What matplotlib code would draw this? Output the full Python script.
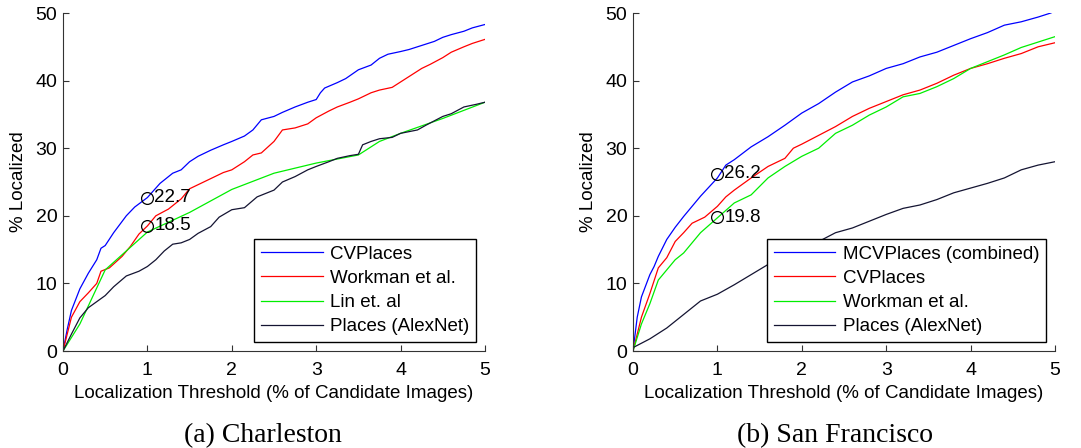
import matplotlib
matplotlib.use("Agg")
import matplotlib.pyplot as plt

plt.rcParams['font.family'] = ['Liberation Sans', 'DejaVu Sans']

# ---- (a) Charleston ----
cha_cv_x = [0, 0.05, 0.1, 0.2, 0.3, 0.4, 0.45, 0.5, 0.6, 0.75, 0.85, 1.0, 1.15, 1.3, 1.4, 1.5, 1.6, 1.75, 1.9, 2.0, 2.15, 2.25, 2.35, 2.5, 2.6, 2.75, 2.9, 3.0, 3.05, 3.1, 3.25, 3.35, 3.5, 3.65, 3.75, 3.85, 4.0, 4.1, 4.25, 4.4, 4.5, 4.6, 4.75, 4.85, 5.0]
cha_cv_y = [0, 3.2, 6.0, 9.2, 11.5, 13.5, 15.2, 15.6, 17.5, 20.0, 21.3, 22.7, 24.8, 26.3, 26.8, 28.0, 28.8, 29.7, 30.5, 31.0, 31.8, 32.7, 34.2, 34.7, 35.3, 36.1, 36.8, 37.2, 38.2, 38.9, 39.7, 40.3, 41.6, 42.3, 43.3, 43.9, 44.3, 44.6, 45.2, 45.8, 46.4, 46.8, 47.3, 47.8, 48.3]
cha_wk_x = [0, 0.1, 0.2, 0.3, 0.4, 0.45, 0.55, 0.7, 0.8, 0.9, 1.0, 1.1, 1.25, 1.4, 1.5, 1.6, 1.75, 1.9, 2.0, 2.15, 2.25, 2.35, 2.5, 2.6, 2.75, 2.9, 3.0, 3.15, 3.25, 3.4, 3.5, 3.65, 3.75, 3.9, 4.0, 4.1, 4.25, 4.35, 4.5, 4.6, 4.75, 4.85, 5.0]
cha_wk_y = [0, 5.0, 7.3, 8.6, 10.0, 11.8, 12.3, 14.0, 15.5, 17.3, 18.5, 20.0, 21.0, 22.5, 24.0, 24.6, 25.5, 26.4, 26.8, 28.0, 29.0, 29.3, 31.0, 32.7, 33.0, 33.6, 34.5, 35.5, 36.1, 36.8, 37.3, 38.2, 38.6, 39.0, 39.8, 40.6, 41.8, 42.4, 43.4, 44.2, 45.0, 45.5, 46.1]
cha_lin_x = [0, 0.2, 0.5, 0.75, 1.0, 1.5, 2.0, 2.5, 3.0, 3.5, 3.75, 4.0, 4.5, 5.0]
cha_lin_y = [0, 4.0, 12.0, 14.8, 17.6, 20.5, 23.9, 26.3, 27.8, 29.0, 31.0, 32.2, 34.4, 36.8]
cha_pl_x = [0, 0.1, 0.2, 0.3, 0.4, 0.5, 0.6, 0.75, 0.9, 1.0, 1.1, 1.2, 1.3, 1.4, 1.5, 1.6, 1.75, 1.85, 2.0, 2.15, 2.3, 2.4, 2.5, 2.6, 2.75, 2.9, 3.0, 3.15, 3.25, 3.4, 3.5, 3.55, 3.65, 3.75, 3.9, 4.0, 4.2, 4.3, 4.5, 4.6, 4.75, 4.9, 5.0]
cha_pl_y = [0, 2.5, 4.9, 6.4, 7.3, 8.2, 9.5, 11.1, 11.8, 12.5, 13.5, 14.8, 15.8, 16.0, 16.5, 17.4, 18.4, 19.8, 20.9, 21.2, 22.8, 23.3, 23.8, 25.0, 25.8, 26.8, 27.3, 28.0, 28.5, 28.9, 29.1, 30.5, 31.0, 31.4, 31.6, 32.2, 32.7, 33.4, 34.7, 35.1, 36.1, 36.5, 36.8]

# ---- (b) San Francisco ----
sf_mcv_x = [0, 0.05, 0.1, 0.2, 0.25, 0.3, 0.4, 0.5, 0.6, 0.8, 1.0, 1.1, 1.2, 1.4, 1.6, 1.8, 2.0, 2.2, 2.4, 2.6, 2.8, 3.0, 3.2, 3.4, 3.6, 3.8, 4.0, 4.2, 4.4, 4.6, 4.8, 4.95, 5.0]
sf_mcv_y = [0, 5.0, 8.0, 11.3, 12.5, 14.0, 16.5, 18.3, 19.9, 22.9, 25.6, 27.5, 28.3, 30.2, 31.7, 33.4, 35.2, 36.6, 38.3, 39.8, 40.7, 41.8, 42.5, 43.5, 44.2, 45.2, 46.2, 47.1, 48.2, 48.7, 49.4, 50.0, 50.3]
sf_cv_x = [0, 0.1, 0.2, 0.3, 0.4, 0.5, 0.6, 0.7, 0.85, 1.0, 1.1, 1.2, 1.4, 1.6, 1.8, 1.9, 2.0, 2.2, 2.4, 2.6, 2.8, 3.0, 3.2, 3.4, 3.6, 3.8, 4.0, 4.2, 4.4, 4.6, 4.8, 5.0]
sf_cv_y = [0, 5.0, 8.5, 12.3, 13.8, 16.2, 17.5, 18.9, 19.8, 21.4, 22.8, 23.8, 25.6, 27.3, 28.5, 30.0, 30.6, 31.9, 33.2, 34.7, 35.9, 36.9, 37.9, 38.6, 39.6, 40.8, 41.8, 42.5, 43.3, 44.0, 45.0, 45.6]
sf_wk_x = [0, 0.1, 0.2, 0.3, 0.4, 0.5, 0.6, 0.8, 1.0, 1.2, 1.4, 1.6, 1.8, 2.0, 2.2, 2.4, 2.6, 2.8, 3.0, 3.2, 3.4, 3.6, 3.8, 4.0, 4.2, 4.4, 4.6, 4.8, 5.0]
sf_wk_y = [0, 4.0, 7.0, 10.5, 12.0, 13.5, 14.5, 17.5, 19.7, 21.9, 23.1, 25.6, 27.3, 28.8, 30.0, 32.2, 33.4, 34.9, 36.1, 37.6, 38.1, 39.1, 40.3, 41.8, 42.8, 43.8, 44.9, 45.7, 46.5]
sf_pl_x = [0, 0.2, 0.4, 0.6, 0.8, 1.0, 1.2, 1.4, 1.6, 1.8, 2.0, 2.2, 2.4, 2.6, 2.8, 3.0, 3.2, 3.4, 3.6, 3.8, 4.0, 4.2, 4.4, 4.6, 4.8, 5.0]
sf_pl_y = [0.5, 1.8, 3.4, 5.4, 7.4, 8.4, 9.8, 11.3, 12.8, 14.3, 15.5, 16.2, 17.5, 18.2, 19.2, 20.2, 21.1, 21.6, 22.4, 23.4, 24.1, 24.8, 25.6, 26.8, 27.5, 28.0]

cha_marks_y = [22.7, 18.5]
sf_marks_y = [26.2, 19.8]
mark_x = 1.0

x_ticks = [0, 1, 2, 3, 4, 5]
y_ticks = [0, 10, 20, 30, 40, 50]

BLUE, RED, GREEN, DARK = '#0000ff', '#ff0000', '#00ee00', '#141432'
FS = 13.5

fig = plt.figure(figsize=(10.81, 4.48), dpi=100)
axL = fig.add_axes([63/1081, 1-351/448, 422/1081, 338/448])
axR = fig.add_axes([633/1081, 1-351/448, 422/1081, 338/448])

def style(ax):
    ax.set_xlim(0, 5)
    ax.set_ylim(0, 50)
    ax.set_xticks(x_ticks)
    ax.set_yticks(y_ticks)
    for s in ['top', 'right']:
        ax.spines[s].set_visible(False)
    for s in ['left', 'bottom']:
        ax.spines[s].set_color('#333333')
        ax.spines[s].set_linewidth(0.8)
    ax.tick_params(direction='in', length=4, width=0.8, labelsize=14, colors='#333333', labelcolor='black')
    ax.tick_params(axis='x', pad=8)
    ax.tick_params(axis='y', pad=4)
    ax.set_xlabel('Localization Threshold (% of Candidate Images)', fontsize=FS, labelpad=4)
    ax.set_ylabel('% Localized', fontsize=FS, labelpad=6)

lw = 0.9
axL.plot(cha_cv_x, cha_cv_y, color=BLUE, lw=lw, label='CVPlaces')
axL.plot(cha_wk_x, cha_wk_y, color=RED, lw=lw, label='Workman et al.')
axL.plot(cha_lin_x, cha_lin_y, color=GREEN, lw=lw, label='Lin et. al')
axL.plot(cha_pl_x, cha_pl_y, color=DARK, lw=lw, label='Places (AlexNet)')
for v in cha_marks_y:
    axL.plot([mark_x], [v], 'o', mfc='none', mec='black', ms=8.5, mew=0.9)
    axL.text(mark_x + 0.08, v, f'{v:.1f}', fontsize=FS, va='center', ha='left')

axR.plot(sf_mcv_x, sf_mcv_y, color=BLUE, lw=lw, label='MCVPlaces (combined)')
axR.plot(sf_cv_x, sf_cv_y, color=RED, lw=lw, label='CVPlaces')
axR.plot(sf_wk_x, sf_wk_y, color=GREEN, lw=lw, label='Workman et al.')
axR.plot(sf_pl_x, sf_pl_y, color=DARK, lw=lw, label='Places (AlexNet)')
for v in sf_marks_y:
    axR.plot([mark_x], [v], 'o', mfc='none', mec='black', ms=8.5, mew=0.9)
    axR.text(mark_x + 0.08, v, f'{v:.1f}', fontsize=FS, va='center', ha='left')

for ax in (axL, axR):
    style(ax)
    leg = ax.legend(loc='lower right', bbox_to_anchor=(1 - 9/422, 9/338), fontsize=FS, frameon=True,
                    fancybox=False, edgecolor='black', framealpha=1.0, handlelength=3.3, handletextpad=0.4,
                    labelspacing=0.38, borderpad=0.35, borderaxespad=0)
    leg.get_frame().set_linewidth(1.0)

fig.text(263/1081, 1-436/448, '(a) Charleston', fontsize=20, ha='center', va='center',
         family=['Liberation Serif', 'DejaVu Serif'])
fig.text(835/1081, 1-436/448, '(b) San Francisco', fontsize=20, ha='center', va='center',
         family=['Liberation Serif', 'DejaVu Serif'])

fig.savefig('out.png', dpi=100)
